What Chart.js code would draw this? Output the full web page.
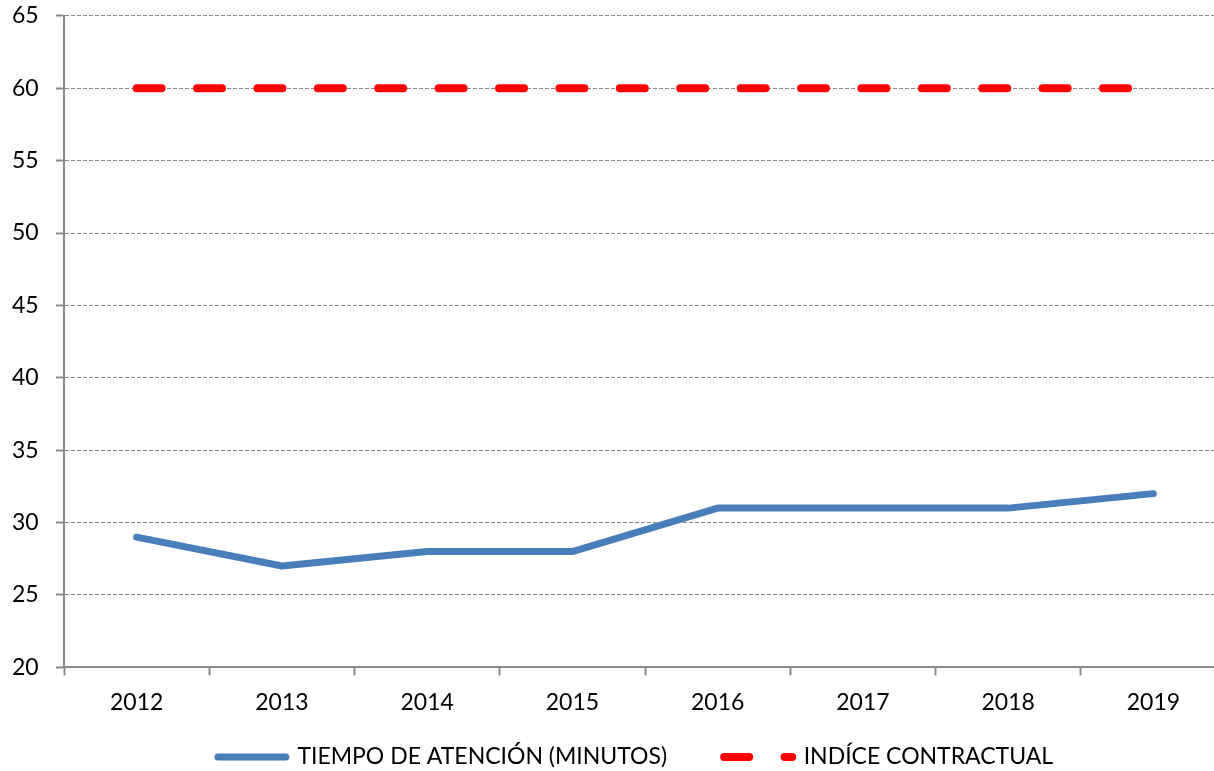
<!DOCTYPE html>
<html>
<head>
<meta charset="utf-8">
<script src="https://cdn.jsdelivr.net/npm/chart.js@4.4.0/dist/chart.umd.min.js"></script>
<style>
  html, body { margin: 0; padding: 0; background: #fff; overflow: hidden; }
  #clip { width: 1214px; height: 771px; position: relative; overflow: hidden; }
  #wrap { width: 1226px; height: 819px; position: absolute; left: 0; top: 0; }
</style>
</head>
<body>
<div id="clip"><div id="wrap"><canvas id="c"></canvas></div></div>
<script>
const years = ['2012', '2013', '2014', '2015', '2016', '2017', '2018', '2019'];
const tiempoAtencion = [29, 27, 28, 28, 31, 31, 31, 32];
const indiceContractual = [60, 60, 60, 60, 60, 60, 60, 60];
const seriesNames = ['TIEMPO DE ATENCIÓN (MINUTOS)', 'INDÍCE CONTRACTUAL'];
const yMin = 20, yMax = 65, yStep = 5;

const FONT = 'Lato, "Open Sans", sans-serif';
const FS = 23;
const GRID = '#8a8a8a';

const legendShift = {
  id: 'legendShift',
  afterLayout(chart) {
    const lg = chart.legend;
    if (lg) {
      lg.left += 16.5; lg.right += 16.5;
      lg.top -= 40.5; lg.bottom -= 40.5;
    }
  }
};

new Chart(document.getElementById('c'), {
  type: 'line',
  plugins: [legendShift],
  data: {
    labels: years,
    datasets: [
      {
        label: seriesNames[0],
        data: tiempoAtencion,
        borderColor: '#4A7EBB',
        backgroundColor: '#4A7EBB',
        borderWidth: 7,
        borderCapStyle: 'round',
        borderJoinStyle: 'round',
        pointRadius: 0,
        pointHoverRadius: 0,
        tension: 0,
        fill: false
      },
      {
        label: seriesNames[1],
        data: indiceContractual,
        borderColor: '#FF0000',
        backgroundColor: '#FF0000',
        borderWidth: 8,
        borderDash: [25, 35.4],
        borderCapStyle: 'round',
        pointRadius: 0,
        pointHoverRadius: 0,
        tension: 0,
        fill: false
      }
    ]
  },
  options: {
    responsive: true,
    maintainAspectRatio: false,
    animation: false,
    layout: { padding: { left: 12, right: 0, top: 0, bottom: 0 } },
    plugins: {
      tooltip: { enabled: false },
      legend: {
        position: 'bottom',
        labels: {
          usePointStyle: true,
          pointStyle: 'line',
          pointStyleWidth: 68,
          boxWidth: 68,
          boxHeight: FS,
          padding: 57,
          color: '#000',
          font: { family: FONT, size: FS },
          generateLabels(chart) {
            const items = Chart.defaults.plugins.legend.labels.generateLabels(chart);
            items.forEach(it => {
              const ds = chart.data.datasets[it.datasetIndex];
              it.lineDash = ds.borderDash || [];
              it.lineCap = ds.borderCapStyle || 'butt';
              it.lineWidth = ds.borderWidth;
              it.strokeStyle = ds.borderColor;
            });
            return items;
          }
        }
      }
    },
    scales: {
      x: {
        offset: true,
        grid: {
          display: true,
          offset: true,
          drawOnChartArea: false,
          drawTicks: true,
          tickLength: 8,
          tickWidth: 2,
          tickColor: GRID
        },
        border: { display: true, color: GRID, width: 2 },
        ticks: {
          color: '#000',
          font: { family: FONT, size: FS },
          padding: 13,
          maxRotation: 0
        }
      },
      y: {
        min: yMin,
        max: yMax,
        afterFit: s => { s.width = 52; },
        ticks: {
          stepSize: yStep,
          color: '#000',
          font: { family: FONT, size: FS },
          padding: 2,
          crossAlign: 'far'
        },
        grid: {
          color: GRID,
          lineWidth: 1,
          drawTicks: true,
          tickLength: 8,
          tickWidth: 2,
          tickColor: GRID,
          tickBorderDash: []
        },
        border: { display: true, color: GRID, width: 2, dash: [4, 2] }
      }
    }
  }
});
</script>
</body>
</html>
